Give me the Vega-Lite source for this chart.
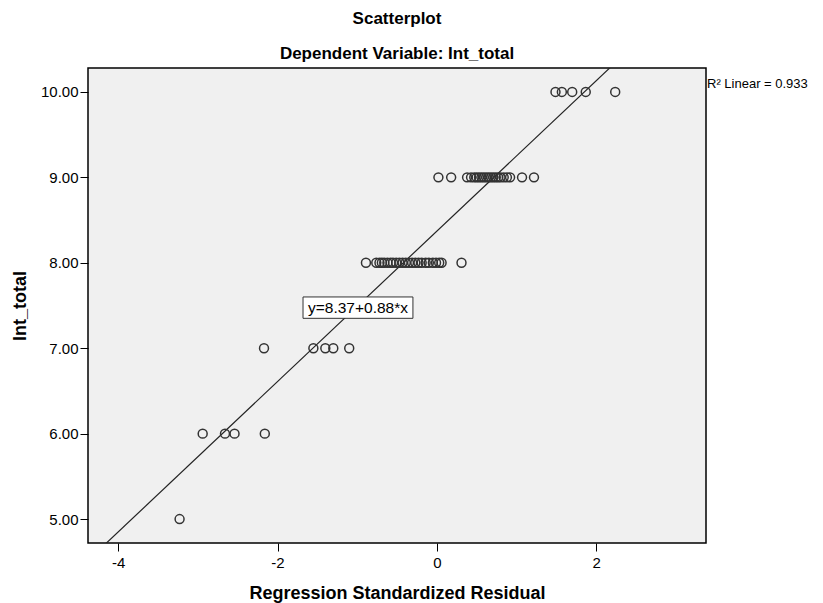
{
  "$schema": "https://vega.github.io/schema/vega-lite/v6.json",
  "autosize": "none",
  "width": 618,
  "height": 475,
  "padding": {"left": 88, "top": 68, "right": 117, "bottom": 60},
  "background": "white",
  "config": {
    "font": "Liberation Sans",
    "view": {"fill": "#F0F0F0", "stroke": "#000000", "strokeWidth": 1.5},
    "axis": {"grid": false, "domain": false, "tickColor": "#000000", "tickSize": 8, "labelColor": "#000000", "labelFont": "Liberation Sans", "labelFontSize": 15, "titleFont": "Liberation Sans", "titleFontSize": 18, "titleFontWeight": "bold", "titleColor": "#000000"}
  },
  "title": {
    "text": ["Scatterplot", "Dependent Variable: Int_total"],
    "font": "Liberation Sans",
    "fontSize": 17,
    "fontWeight": "bold",
    "color": "#000000",
    "lineHeight": 35,
    "anchor": "middle",
    "offset": 5
  },
  "datasets": {
    "points": [
      {"residual": 1.49, "int_total": 10},
      {"residual": 1.57, "int_total": 10},
      {"residual": 1.70, "int_total": 10},
      {"residual": 1.87, "int_total": 10},
      {"residual": 2.24, "int_total": 10},
      {"residual": 0.02, "int_total": 9},
      {"residual": 0.18, "int_total": 9},
      {"residual": 0.38, "int_total": 9},
      {"residual": 0.43, "int_total": 9},
      {"residual": 0.47, "int_total": 9},
      {"residual": 0.50, "int_total": 9},
      {"residual": 0.53, "int_total": 9},
      {"residual": 0.56, "int_total": 9},
      {"residual": 0.59, "int_total": 9},
      {"residual": 0.62, "int_total": 9},
      {"residual": 0.65, "int_total": 9},
      {"residual": 0.68, "int_total": 9},
      {"residual": 0.71, "int_total": 9},
      {"residual": 0.74, "int_total": 9},
      {"residual": 0.77, "int_total": 9},
      {"residual": 0.80, "int_total": 9},
      {"residual": 0.84, "int_total": 9},
      {"residual": 0.88, "int_total": 9},
      {"residual": 0.92, "int_total": 9},
      {"residual": 1.07, "int_total": 9},
      {"residual": 1.22, "int_total": 9},
      {"residual": -0.89, "int_total": 8},
      {"residual": -0.76, "int_total": 8},
      {"residual": -0.72, "int_total": 8},
      {"residual": -0.69, "int_total": 8},
      {"residual": -0.66, "int_total": 8},
      {"residual": -0.62, "int_total": 8},
      {"residual": -0.58, "int_total": 8},
      {"residual": -0.55, "int_total": 8},
      {"residual": -0.51, "int_total": 8},
      {"residual": -0.47, "int_total": 8},
      {"residual": -0.43, "int_total": 8},
      {"residual": -0.39, "int_total": 8},
      {"residual": -0.35, "int_total": 8},
      {"residual": -0.31, "int_total": 8},
      {"residual": -0.27, "int_total": 8},
      {"residual": -0.23, "int_total": 8},
      {"residual": -0.19, "int_total": 8},
      {"residual": -0.14, "int_total": 8},
      {"residual": -0.10, "int_total": 8},
      {"residual": -0.05, "int_total": 8},
      {"residual": -0.01, "int_total": 8},
      {"residual": 0.03, "int_total": 8},
      {"residual": 0.06, "int_total": 8},
      {"residual": 0.31, "int_total": 8},
      {"residual": -2.17, "int_total": 7},
      {"residual": -1.55, "int_total": 7},
      {"residual": -1.40, "int_total": 7},
      {"residual": -1.30, "int_total": 7},
      {"residual": -1.10, "int_total": 7},
      {"residual": -2.94, "int_total": 6},
      {"residual": -2.66, "int_total": 6},
      {"residual": -2.54, "int_total": 6},
      {"residual": -2.16, "int_total": 6},
      {"residual": -3.23, "int_total": 5}
    ],
    "fit": [
      {"residual": -4.38, "int_total": 4.516},
      {"residual": 3.38, "int_total": 11.344}
    ],
    "equation": [
      {"x0": -1.68, "x1": -0.30, "y0": 7.35, "y1": 7.60, "xc": -0.99, "yc": 7.475, "label": "y=8.37+0.88*x"}
    ],
    "rsq": [
      {"x": 3.38, "y": 10.09, "label": "R² Linear = 0.933"}
    ]
  },
  "layer": [
    {
      "data": {"name": "fit"},
      "mark": {"type": "line", "clip": true, "color": "#222222", "strokeWidth": 1.2},
      "encoding": {
        "x": {"field": "residual", "type": "quantitative", "scale": {"domain": [-4.38, 3.38], "nice": false, "zero": false},
          "axis": {"values": [-4, -2, 0, 2], "labelExpr": "datum.value + ''", "title": "Regression Standardized Residual", "titlePadding": 14, "labelPadding": 4}},
        "y": {"field": "int_total", "type": "quantitative", "scale": {"domain": [4.72, 10.28], "nice": false, "zero": false},
          "axis": {"values": [5, 6, 7, 8, 9, 10], "format": ".2f", "title": "Int_total", "titlePadding": 11, "labelPadding": 2}}
      }
    },
    {
      "data": {"name": "points"},
      "mark": {"type": "point", "shape": "circle", "filled": false, "size": 80, "stroke": "#333333", "strokeWidth": 1.5, "opacity": 1},
      "encoding": {
        "x": {"field": "residual", "type": "quantitative"},
        "y": {"field": "int_total", "type": "quantitative"}
      }
    },
    {
      "data": {"name": "equation"},
      "mark": {"type": "rect", "fill": "#FFFFFF", "stroke": "#333333", "strokeWidth": 1},
      "encoding": {
        "x": {"field": "x0", "type": "quantitative"},
        "x2": {"field": "x1"},
        "y": {"field": "y0", "type": "quantitative"},
        "y2": {"field": "y1"}
      }
    },
    {
      "data": {"name": "equation"},
      "mark": {"type": "text", "fontSize": 15.5, "color": "#000000", "align": "center", "baseline": "middle"},
      "encoding": {
        "x": {"field": "xc", "type": "quantitative"},
        "y": {"field": "yc", "type": "quantitative"},
        "text": {"field": "label"}
      }
    },
    {
      "data": {"name": "rsq"},
      "mark": {"type": "text", "fontSize": 13, "color": "#000000", "align": "left", "baseline": "middle", "dx": 1},
      "encoding": {
        "x": {"field": "x", "type": "quantitative"},
        "y": {"field": "y", "type": "quantitative"},
        "text": {"field": "label"}
      }
    }
  ]
}
